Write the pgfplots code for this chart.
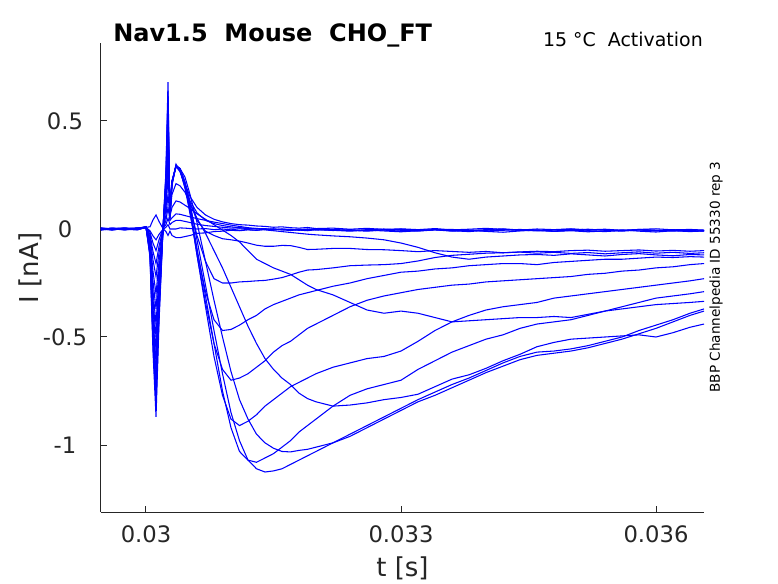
\documentclass[border=0pt]{standalone}
\usepackage{fontspec}
\setmainfont{DejaVu Sans}
\usepackage{pgfplots}
\usepackage{pgfplotstable}
\pgfplotsset{compat=1.18}
\definecolor{axgray}{rgb}{0.15,0.15,0.15}
\definecolor{trace}{rgb}{0,0,1}
% t in ms; columns = current traces in nA
\pgfplotstableread{
t y1 y2 y3 y4 y5 y6 y7 y8 y9 y10 y11 y12 y13 y14 y15 y16
29.47 0.004 -0.002 0.001 -0.004 0.003 -0.001 0.005 -0.003 0.002 0.0 -0.005 0.003 0.001 -0.002 0.004 -0.003
29.60 -0.003 0.003 -0.005 0.002 0.001 -0.004 0.0 0.004 -0.002 0.003 0.001 -0.003 0.004 0.0 -0.001 0.002
29.75 0.002 -0.004 0.003 0.005 -0.003 0.002 -0.002 0.001 0.004 -0.004 0.002 0.0 -0.002 0.003 -0.003 0.004
29.90 0.005 0.002 -0.002 -0.003 0.004 0.003 -0.004 0.002 0.0 0.005 -0.001 0.004 0.001 -0.003 0.002 0.001
30.000 0.008 0.006 0.01 0.007 0.009 0.006 0.008 0.01 0.007 0.009 0.008 0.006 0.01 0.007 0.009 0.011
30.047 0.01 -0.008 -0.015 -0.024 -0.033 -0.045 -0.056 -0.066 -0.075 -0.084 -0.093 -0.1 -0.108 -0.115 -0.123 -0.13
30.082 0.042 -0.032 -0.065 -0.104 -0.143 -0.195 -0.24 -0.286 -0.325 -0.364 -0.403 -0.436 -0.468 -0.5 -0.533 -0.565
30.118 0.065 -0.05 -0.1 -0.16 -0.22 -0.3 -0.37 -0.44 -0.5 -0.56 -0.62 -0.67 -0.72 -0.77 -0.82 -0.87
30.153 0.035 -0.025 -0.05 -0.08 -0.11 -0.15 -0.185 -0.22 -0.25 -0.28 -0.31 -0.335 -0.36 -0.385 -0.41 -0.435
30.200 0.002 -0.002 0.003 -0.001 0.001 0.0 -0.003 0.002 0.0 -0.002 0.001 0.003 -0.001 0.0 0.002 -0.002
30.235 -0.012 0.008 0.02 0.04 0.064 0.096 0.12 0.14 0.16 0.176 0.192 0.208 0.224 0.24 0.256 0.272
30.259 -0.03 0.02 0.05 0.1 0.16 0.24 0.3 0.35 0.4 0.44 0.48 0.52 0.56 0.6 0.64 0.68
30.282 -0.01 0.0 0.02 0.04 0.06 0.08 0.1 0.1 0.1 0.08 0.08 0.07 0.06 0.05 0.05 0.04
30.306 -0.03 0.0 0.03 0.052 0.1 0.16 0.22 0.22 0.22 0.22 0.22 0.22 0.21 0.21 0.21 0.2
30.353 -0.04 0.0 0.04 0.07 0.13 0.21 0.29 0.29 0.292 0.295 0.29 0.288 0.29 0.295 0.29 0.3
30.400 -0.04 0.005 0.04 0.068 0.125 0.2 0.28 0.28 0.28 0.28 0.28 0.275 0.27 0.27 0.265 0.27
30.459 -0.035 0.004 0.035 0.062 0.11 0.17 0.24 0.22 0.21 0.2 0.2 0.19 0.19 0.2 0.21 0.2
30.518 -0.03 0.002 0.03 0.056 0.095 0.12 0.16 0.12 0.1 0.09 0.08 0.07 0.1 0.12 0.15 0.13
30.60 -0.02 0.0 0.022 0.048 0.07 0.05 0.03 -0.05 -0.09 -0.12 -0.12 -0.1 -0.03 0.04 0.1 0.075
30.70 -0.018 0.002 0.016 0.04 0.045 -0.02 -0.15 -0.26 -0.31 -0.36 -0.34 -0.29 -0.15 -0.01 0.065 0.04
30.80 -0.012 -0.003 0.012 0.032 0.02 -0.1 -0.33 -0.47 -0.53 -0.59 -0.53 -0.42 -0.23 -0.03 0.045 0.025
30.90 -0.01 0.0 0.008 0.025 -0.005 -0.18 -0.5 -0.67 -0.75 -0.77 -0.65 -0.47 -0.25 -0.045 0.033 0.016
31.00 -0.006 -0.004 0.004 0.018 -0.03 -0.27 -0.66 -0.85 -0.92 -0.88 -0.70 -0.465 -0.25 -0.05 0.025 0.01
31.10 -0.008 0.001 0.006 0.012 -0.06 -0.36 -0.79 -0.98 -1.03 -0.91 -0.69 -0.445 -0.245 -0.056 0.02 0.006
31.20 -0.004 -0.003 0.001 0.006 -0.1 -0.45 -0.88 -1.07 -1.07 -0.89 -0.67 -0.42 -0.243 -0.065 0.018 0.004
31.30 -0.006 -0.006 0.003 0.002 -0.14 -0.53 -0.95 -1.11 -1.08 -0.86 -0.64 -0.40 -0.24 -0.075 0.014 0.0
31.40 -0.002 -0.002 -0.002 -0.004 -0.16 -0.6 -0.99 -1.125 -1.06 -0.82 -0.61 -0.37 -0.238 -0.08 0.012 0.002
31.50 -0.005 0.001 0.0 -0.008 -0.18 -0.65 -1.015 -1.12 -1.04 -0.79 -0.57 -0.35 -0.232 -0.08 0.008 -0.003
31.60 0.0 -0.004 -0.004 -0.012 -0.195 -0.69 -1.03 -1.11 -1.01 -0.76 -0.54 -0.335 -0.225 -0.076 0.01 0.0
31.70 -0.003 -0.007 -0.001 -0.016 -0.21 -0.72 -1.032 -1.09 -0.98 -0.73 -0.52 -0.32 -0.213 -0.077 0.006 -0.004
31.80 -0.006 -0.003 -0.005 -0.02 -0.235 -0.76 -1.025 -1.07 -0.94 -0.71 -0.49 -0.305 -0.2 -0.085 0.004 -0.001
31.90 -0.002 0.0 -0.008 -0.024 -0.26 -0.785 -1.02 -1.05 -0.91 -0.69 -0.46 -0.295 -0.19 -0.095 0.007 -0.005
32.00 0.002 -0.005 -0.003 -0.027 -0.28 -0.80 -1.01 -1.03 -0.88 -0.67 -0.44 -0.285 -0.188 -0.094 0.002 -0.002
32.2 -0.004 -0.002 -0.006 -0.032 -0.305 -0.82 -0.99 -0.99 -0.82 -0.64 -0.40 -0.265 -0.18 -0.09 0.004 -0.007
32.4 -0.008 -0.006 -0.01 -0.036 -0.34 -0.815 -0.96 -0.95 -0.77 -0.62 -0.36 -0.25 -0.17 -0.09 -0.001 -0.003
32.6 -0.003 -0.01 -0.005 -0.042 -0.375 -0.805 -0.92 -0.91 -0.74 -0.60 -0.33 -0.23 -0.167 -0.095 0.003 -0.008
32.8 0.0 -0.004 -0.009 -0.05 -0.39 -0.79 -0.88 -0.87 -0.72 -0.59 -0.31 -0.215 -0.165 -0.096 -0.002 -0.005
33.0 -0.006 -0.001 -0.013 -0.065 -0.38 -0.78 -0.84 -0.83 -0.70 -0.565 -0.295 -0.20 -0.16 -0.1 0.001 -0.01
33.2 -0.01 -0.006 -0.008 -0.085 -0.39 -0.765 -0.80 -0.79 -0.65 -0.52 -0.28 -0.195 -0.148 -0.105 -0.003 -0.006
33.4 -0.004 -0.003 -0.004 -0.11 -0.41 -0.73 -0.77 -0.755 -0.61 -0.47 -0.27 -0.185 -0.132 -0.1 0.002 -0.003
33.6 -0.002 -0.008 -0.01 -0.13 -0.43 -0.695 -0.735 -0.72 -0.57 -0.43 -0.26 -0.18 -0.122 -0.104 -0.004 -0.008
33.8 -0.007 -0.012 -0.006 -0.14 -0.425 -0.675 -0.70 -0.69 -0.54 -0.40 -0.255 -0.17 -0.117 -0.108 -0.001 -0.005
34.0 -0.003 -0.006 -0.011 -0.13 -0.42 -0.645 -0.665 -0.655 -0.51 -0.375 -0.245 -0.165 -0.112 -0.104 0.003 -0.009
34.2 0.001 -0.002 -0.015 -0.125 -0.415 -0.61 -0.635 -0.62 -0.49 -0.36 -0.24 -0.16 -0.11 -0.11 -0.002 -0.006
34.4 -0.005 -0.007 -0.009 -0.12 -0.41 -0.58 -0.605 -0.59 -0.46 -0.35 -0.235 -0.16 -0.106 -0.107 -0.005 -0.002
34.6 -0.009 -0.004 -0.005 -0.118 -0.41 -0.545 -0.585 -0.57 -0.44 -0.34 -0.23 -0.165 -0.103 -0.112 0.0 -0.007
34.8 -0.004 -0.009 -0.011 -0.122 -0.405 -0.525 -0.575 -0.565 -0.43 -0.32 -0.225 -0.155 -0.105 -0.108 -0.003 -0.011
35.0 -0.001 -0.005 -0.008 -0.115 -0.41 -0.51 -0.565 -0.555 -0.42 -0.31 -0.22 -0.15 -0.1 -0.113 0.001 -0.006
35.2 -0.006 -0.001 -0.013 -0.12 -0.395 -0.505 -0.55 -0.54 -0.40 -0.30 -0.21 -0.145 -0.098 -0.109 -0.004 -0.009
35.4 -0.003 -0.006 -0.009 -0.125 -0.38 -0.50 -0.53 -0.52 -0.38 -0.29 -0.205 -0.14 -0.103 -0.115 -0.001 -0.012
35.6 -0.008 -0.01 -0.004 -0.118 -0.37 -0.495 -0.51 -0.50 -0.36 -0.28 -0.195 -0.14 -0.1 -0.11 -0.006 -0.007
35.8 -0.002 -0.005 -0.01 -0.114 -0.36 -0.49 -0.485 -0.47 -0.34 -0.27 -0.19 -0.135 -0.097 -0.106 -0.002 -0.004
36.0 -0.005 -0.008 -0.014 -0.12 -0.35 -0.50 -0.46 -0.445 -0.32 -0.26 -0.18 -0.13 -0.102 -0.112 0.001 -0.009
36.2 -0.01 -0.003 -0.008 -0.124 -0.345 -0.48 -0.43 -0.42 -0.31 -0.25 -0.175 -0.132 -0.099 -0.108 -0.004 -0.006
36.4 -0.004 -0.007 -0.012 -0.118 -0.34 -0.455 -0.40 -0.39 -0.30 -0.24 -0.165 -0.128 -0.103 -0.113 -0.002 -0.011
36.565 -0.006 -0.01 -0.009 -0.12 -0.335 -0.44 -0.38 -0.37 -0.29 -0.23 -0.16 -0.13 -0.1 -0.11 -0.005 -0.008
}\datatable
\begin{document}
\begin{tikzpicture}
\path[use as bounding box] (-75.75pt,-53.25pt) rectangle (507.75pt,384pt);
\begin{axis}[
  at={(0pt,0pt)}, anchor=south west,
  scale only axis, width=452.25pt, height=351.75pt,
  xmin=29.4706, xmax=36.5647, ymin=-1.3102, ymax=0.8611,
  axis x line*=bottom, axis y line*=left,
  axis line style={-, draw=axgray, line width=0.75pt},
  xtick={30,33,36}, xticklabels={0.03,0.033,0.036},
  ytick={-1,-0.5,0,0.5}, yticklabels={-1,-0.5,0,0.5},
  tick align=inside, major tick length=4.5pt,
  tick style={draw=axgray, line width=0.75pt},
  xticklabel style={anchor=north, inner sep=0pt, yshift=-9.75pt, font=\fontsize{17}{20}\selectfont, text=axgray},
  yticklabel style={anchor=center, inner sep=0pt, xshift=-27pt, font=\fontsize{17}{20}\selectfont, text=axgray},
  clip=true,
]
\pgfplotsinvokeforeach{y1,y2,y3,y4,y5,y6,y7,y8,y9,y10,y11,y12,y13,y14,y15,y16}{
  \addplot[color=trace, line width=0.8pt, no markers] table[x=t, y=#1]{\datatable};
}
\end{axis}
\node[anchor=base west, font=\fontsize{18}{21}\selectfont\bfseries, text=black, inner sep=0pt] at (9pt,352.5pt) {Nav1.5\ \ Mouse\ \ CHO\_FT};
\node[anchor=base east, font=\fontsize{14.2}{17}\selectfont, text=black, inner sep=0pt] at (451.5pt,348.75pt) {15 °C\ \ Activation};
\node[rotate=90, anchor=center, font=\fontsize{10.2}{12}\selectfont, text=black, inner sep=0pt] at (461.25pt,176.25pt) {BBP Channelpedia ID 55330 rep 3};
\node[anchor=base, font=\fontsize{19.5}{23}\selectfont, text=axgray, inner sep=0pt] at (226.1pt,-48pt) {t [s]};
\node[rotate=90, anchor=center, font=\fontsize{19.5}{23}\selectfont, text=axgray, inner sep=0pt] at (-53.25pt,183pt) {I [nA]};
\end{tikzpicture}
\end{document}
